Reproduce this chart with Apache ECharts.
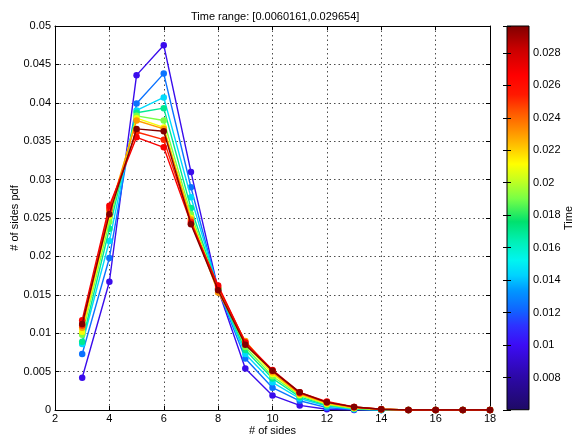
<!DOCTYPE html>
<html>
<head>
<meta charset="utf-8">
<script src="https://cdn.jsdelivr.net/npm/echarts@6/dist/echarts.min.js"></script>
<style>html,body{margin:0;padding:0;background:#fff}#c{width:584px;height:441px}</style>
</head>
<body>
<div id="c"></div>
<script>
// ---------- data ----------
const titleText = 'Time range: [0.0060161,0.029654]';
const timeMin = 0.0060161;
const timeMax = 0.029654;
const sides = [3,4,5,6,7,8,9,10,11,12,13,14,15,16,17,18];
const times = [0.0098, 0.0125, 0.0145, 0.0170, 0.0190, 0.0210, 0.0230, 0.0252, 0.0268, 0.0296];
const pdf1  = [0.0042,0.0167,0.0436,0.0475,0.0310,0.0157,0.0054,0.0019,0.0006,0.0001,0,0,0,0,0,0];
const pdf2  = [0.0073,0.0198,0.0399,0.0438,0.0290,0.0157,0.0067,0.0029,0.0012,0.0003,0.0001,0,0,0,0,0];
const pdf3  = [0.0086,0.0220,0.0390,0.0407,0.0277,0.0158,0.0073,0.0036,0.0015,0.0005,0.0001,0,0,0,0,0];
const pdf4  = [0.0089,0.0236,0.0387,0.0393,0.0263,0.0158,0.0078,0.0041,0.0017,0.0006,0.0002,0,0,0,0,0];
const pdf5  = [0.0098,0.0245,0.0383,0.0377,0.0255,0.0158,0.0082,0.0044,0.0019,0.0007,0.0002,0.0001,0,0,0,0];
const pdf6  = [0.0102,0.0252,0.0380,0.0368,0.0250,0.0158,0.0086,0.0047,0.0020,0.0008,0.0003,0.0001,0,0,0,0];
const pdf7  = [0.0107,0.0258,0.0377,0.0366,0.0248,0.0153,0.0090,0.0049,0.0021,0.0009,0.0003,0.0001,0,0,0,0];
const pdf8  = [0.0110,0.0262,0.0362,0.0352,0.0245,0.0160,0.0088,0.0051,0.0022,0.0010,0.0004,0.0001,0,0,0,0];
const pdf9  = [0.0117,0.0266,0.0355,0.0342,0.0243,0.0162,0.0088,0.0052,0.0023,0.0011,0.0004,0.0001,0,0,0,0];
const pdf10 = [0.0112,0.0255,0.0366,0.0363,0.0242,0.0156,0.0085,0.0051,0.0023,0.0010,0.0004,0.0001,0,0,0,0];
const allPdf = [pdf1,pdf2,pdf3,pdf4,pdf5,pdf6,pdf7,pdf8,pdf9,pdf10];
const xTicks = {min: 2, max: 18, interval: 2};
const yTicks = {min: 0, max: 0.05, interval: 0.005};
const cbTicks = {min: 0.006, interval: 0.002};

// ---------- style ----------
const FONT = 'Liberation Sans';
const cmap = [
  [0.00, [30,10,100]],
  [0.09, [45,8,170]],
  [0.17, [60,12,245]],
  [0.22, [45,50,255]],
  [0.26, [16,100,255]],
  [0.31, [0,150,255]],
  [0.35, [0,210,255]],
  [0.39, [0,245,240]],
  [0.44, [0,240,180]],
  [0.49, [0,225,110]],
  [0.55, [120,255,70]],
  [0.60, [200,255,30]],
  [0.64, [255,255,0]],
  [0.69, [255,190,0]],
  [0.73, [255,140,0]],
  [0.78, [255,80,0]],
  [0.82, [255,25,0]],
  [0.87, [255,0,0]],
  [0.94, [200,0,0]],
  [1.00, [128,0,0]]
];
function cmapColor(v){
  v = Math.max(0, Math.min(1, v));
  for (let i = 1; i < cmap.length; i++){
    if (v <= cmap[i][0]){
      const a = cmap[i-1], b = cmap[i];
      const f = (v - a[0]) / (b[0] - a[0]);
      const c = a[1].map((x,k)=>Math.round(x + (b[1][k]-x)*f));
      return 'rgb(' + c.join(',') + ')';
    }
  }
  return 'rgb(128,0,0)';
}
function tNorm(t){ return (t - timeMin) / (timeMax - timeMin); }

const gridLine = {show: true, lineStyle: {color: '#000', type: [1.5, 3], width: 1, opacity: 0.7}};
const axisLbl = {color: '#000', fontFamily: FONT, fontSize: 11};

const series = allPdf.map((vals, i) => ({
  type: 'line',
  xAxisIndex: 0, yAxisIndex: 0,
  data: sides.map((x, j) => [x, vals[j]]),
  symbol: 'circle',
  symbolSize: 6.5,
  lineStyle: {width: 1.4, color: cmapColor(tNorm(times[i]))},
  itemStyle: {color: cmapColor(tNorm(times[i]))},
  z: 3 + i,
  animation: false
}));

const gradStops = cmap.map(s => ({offset: s[0], color: 'rgb(' + s[1].join(',') + ')'}));

series.push({
  type: 'custom',
  xAxisIndex: 2, yAxisIndex: 2,
  data: [[0, timeMin, 1, timeMax]],
  encode: {x: [0, 2], y: [1, 3]},
  clip: false,
  z: 1,
  animation: false,
  renderItem: function(params, api){
    const p0 = api.coord([0, api.value(1)]);
    const p1 = api.coord([1, api.value(3)]);
    return {
      type: 'rect',
      shape: {x: p0[0], y: p1[1], width: p1[0] - p0[0], height: p0[1] - p1[1]},
      style: {
        fill: new echarts.graphic.LinearGradient(0, 1, 0, 0, gradStops),
        stroke: '#000', lineWidth: 1
      }
    };
  }
});

const chart = echarts.init(document.getElementById('c'), null, {renderer: 'canvas'});
chart.setOption({
  animation: false,
  backgroundColor: '#fff',
  title: {
    text: titleText, left: 186, top: 6,
    textStyle: {fontFamily: FONT, fontSize: 11, fontWeight: 'normal', color: '#000'}
  },
  grid: [
    {left: 55, right: 94, top: 26, bottom: 31, containLabel: false, outerBoundsMode: 'none'},
    {left: 507, width: 22, top: 26, bottom: 31, containLabel: false, outerBoundsMode: 'none'}
  ],
  xAxis: [
    {
      type: 'value', gridIndex: 0, position: 'bottom',
      min: xTicks.min, max: xTicks.max, interval: xTicks.interval,
      name: '# of sides', nameLocation: 'middle', nameGap: 15, nameMoveOverlap: false,
      nameTextStyle: {fontFamily: FONT, fontSize: 11, color: '#000'},
      axisLine: {show: true, onZero: false, lineStyle: {color: '#000', width: 1}},
      axisTick: {show: true, inside: true, length: 4, lineStyle: {color: '#000'}},
      axisLabel: Object.assign({margin: 3}, axisLbl),
      splitLine: gridLine
    },
    {
      type: 'value', gridIndex: 0, position: 'top',
      min: xTicks.min, max: xTicks.max, interval: xTicks.interval,
      axisLine: {show: true, onZero: false, lineStyle: {color: '#000', width: 1}},
      axisTick: {show: true, inside: true, length: 4, lineStyle: {color: '#000'}},
      axisLabel: {show: false},
      splitLine: {show: false}
    },
    {
      type: 'value', gridIndex: 1, min: 0, max: 1, show: false
    }
  ],
  yAxis: [
    {
      type: 'value', gridIndex: 0, position: 'left',
      min: yTicks.min, max: yTicks.max, interval: yTicks.interval,
      name: '# of sides pdf', nameLocation: 'middle', nameGap: 35, nameMoveOverlap: false,
      nameTextStyle: {fontFamily: FONT, fontSize: 11, color: '#000'},
      axisLine: {show: true, onZero: false, lineStyle: {color: '#000', width: 1}},
      axisTick: {show: true, inside: true, length: 4, lineStyle: {color: '#000'}},
      axisLabel: Object.assign({margin: 4}, axisLbl),
      splitLine: gridLine
    },
    {
      type: 'value', gridIndex: 0, position: 'right',
      min: yTicks.min, max: yTicks.max, interval: yTicks.interval,
      axisLine: {show: true, onZero: false, lineStyle: {color: '#000', width: 1}},
      axisTick: {show: true, inside: true, length: 4, lineStyle: {color: '#000'}},
      axisLabel: {show: false},
      splitLine: {show: false}
    },
    {
      type: 'value', gridIndex: 1, position: 'right',
      min: cbTicks.min, max: timeMax, interval: cbTicks.interval,
      name: 'Time', nameLocation: 'middle', nameGap: 34, nameMoveOverlap: false,
      nameTextStyle: {fontFamily: FONT, fontSize: 11, color: '#000'},
      z: 10,
      axisLine: {show: false},
      axisTick: {show: true, inside: true, length: 4, lineStyle: {color: '#000'}},
      axisLabel: Object.assign({
        margin: 4,
        formatter: function(v){ return (v < 0.0075 || v > 0.0285) ? '' : String(+v.toFixed(3)); }
      }, axisLbl),
      splitLine: {show: false}
    },
    {
      type: 'value', gridIndex: 1, position: 'left',
      min: cbTicks.min, max: timeMax, interval: cbTicks.interval,
      z: 10,
      axisLine: {show: false},
      axisTick: {show: true, inside: true, length: 4, lineStyle: {color: '#000'}},
      axisLabel: {show: false},
      splitLine: {show: false}
    }
  ],
  series: series
});
</script>
</body>
</html>
